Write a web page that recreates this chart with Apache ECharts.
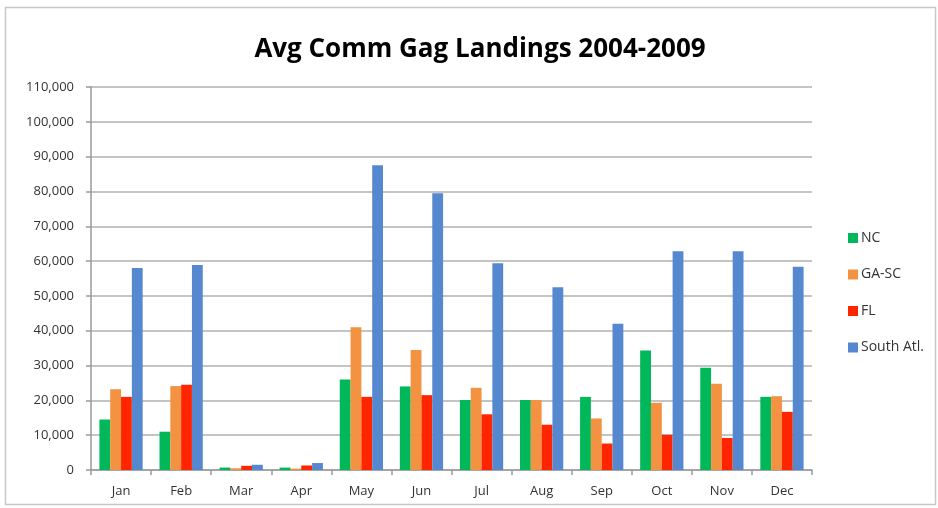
<!DOCTYPE html>
<html>
<head>
<meta charset="utf-8">
<script src="https://cdn.jsdelivr.net/npm/echarts@6/dist/echarts.min.js"></script>
<style>
  html, body { margin: 0; padding: 0; background: #fff; }
  #chart { width: 938px; height: 508px; }
</style>
</head>
<body>
<div id="chart"></div>
<script>
const months = ['Jan', 'Feb', 'Mar', 'Apr', 'May', 'Jun', 'Jul', 'Aug', 'Sep', 'Oct', 'Nov', 'Dec']
const nc = [14500, 11000, 700, 700, 26000, 24000, 20100, 20100, 21000, 34300, 29400, 21000]
const gaSc = [23200, 24100, 500, 400, 41000, 34500, 23600, 20100, 14800, 19300, 24800, 21200]
const fl = [21000, 24500, 1200, 1300, 21000, 21500, 16000, 13000, 7600, 10100, 9200, 16700]
const southAtl = [58000, 58900, 1500, 2000, 87500, 79500, 59400, 52500, 42000, 62800, 62800, 58400]

const chart = echarts.init(document.getElementById('chart'))

const font = 'Open Sans'

const option = {
  animation: false,
  textStyle: { fontFamily: font },
  title: {
    text: 'Avg Comm Gag Landings 2004-2009',
    left: 475,
    textAlign: 'center',
    top: 32,
    textStyle: { fontSize: 26, fontWeight: 'bold', color: '#000', fontFamily: font }
  },
  graphic: [{
    type: 'rect',
    shape: { x: 5.5, y: 7.5, width: 930, height: 497 },
    style: { fill: 'none', stroke: '#c8c8c8', lineWidth: 1.5 },
    silent: true
  }],
  legend: {
    orient: 'vertical',
    left: 843,
    top: 226,
    itemWidth: 10,
    itemHeight: 10,
    itemGap: 22.5,
    icon: 'rect',
    textStyle: { fontSize: 14, color: '#333', fontFamily: font, padding: [0, 0, 0, -2] },
    data: ['NC', 'GA-SC', 'FL', 'South Atl.']
  },
  grid: {
    left: 91,
    right: 126,
    top: 87,
    bottom: 38
  },
  xAxis: {
    type: 'category',
    data: months,
    axisLine: { lineStyle: { color: '#9a9a9a', width: 1.5 } },
    axisTick: { show: true, length: 5, lineStyle: { color: '#9a9a9a', width: 1.5 } },
    axisLabel: { color: '#333', fontSize: 13, margin: 15 }
  },
  yAxis: {
    type: 'value',
    min: 0,
    max: 110000,
    interval: 10000,
    axisLine: { show: true, lineStyle: { color: '#9a9a9a', width: 1.5 } },
    axisTick: { show: true, length: 5, lineStyle: { color: '#9a9a9a', width: 1.5 } },
    splitLine: { lineStyle: { color: '#b0b0b0', width: 1.5 } },
    axisLabel: {
      color: '#333',
      fontSize: 13,
      margin: 17,
      formatter: v => v.toLocaleString('en-US')
    }
  },
  series: [
    { name: 'NC', type: 'bar', data: nc, itemStyle: { color: '#00B85A' }, barGap: '0%', barCategoryGap: '28%' },
    { name: 'GA-SC', type: 'bar', data: gaSc, itemStyle: { color: '#F39240' } },
    { name: 'FL', type: 'bar', data: fl, itemStyle: { color: '#FF2500' } },
    { name: 'South Atl.', type: 'bar', data: southAtl, itemStyle: { color: '#5688D0' } }
  ]
}

chart.setOption(option)
</script>
</body>
</html>
